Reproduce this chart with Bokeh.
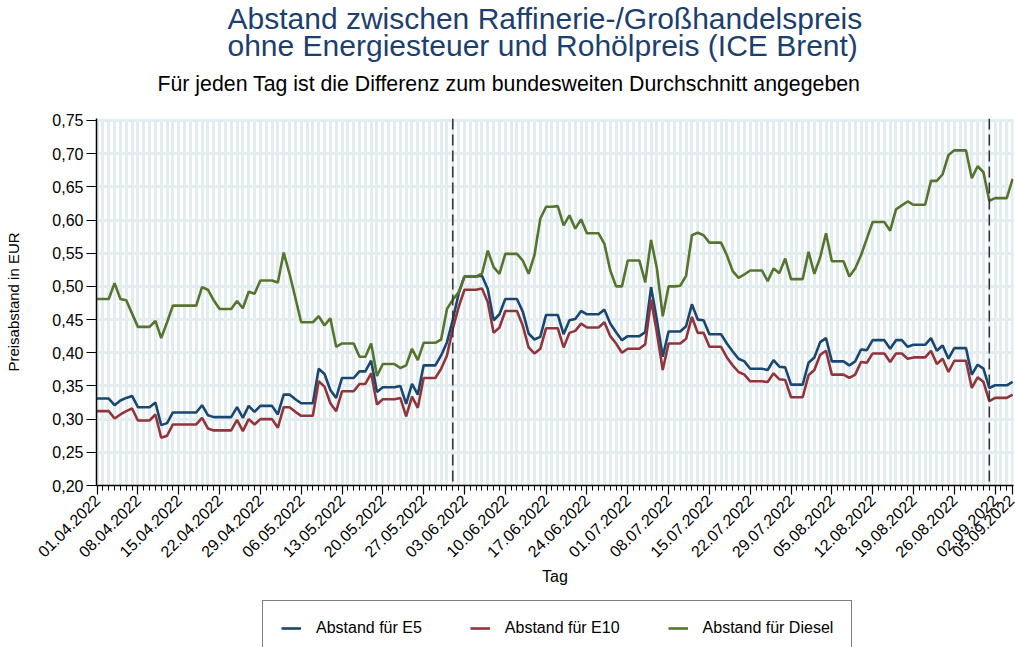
import math
import numpy as np
import pandas as pd
from bokeh.plotting import figure
from bokeh.layouts import column
from bokeh.models import (FixedTicker, CustomJSTickFormatter, Span, Legend,
                          LegendItem, ColumnDataSource, Range1d, Title)
from bokeh.embed import file_html
from bokeh.resources import INLINE

# ---------------- data ----------------
START_DATE = "2022-04-01"
END_DATE = "2022-09-05"

TICK_LABELS = ["01.04.2022", "08.04.2022", "15.04.2022", "22.04.2022", "29.04.2022",
               "06.05.2022", "13.05.2022", "20.05.2022", "27.05.2022", "03.06.2022",
               "10.06.2022", "17.06.2022", "24.06.2022", "01.07.2022", "08.07.2022",
               "15.07.2022", "22.07.2022", "29.07.2022", "05.08.2022", "12.08.2022",
               "19.08.2022", "26.08.2022", "02.09.2022", "05.09.2022"]

MARKER_DATES = ["01.06.2022", "01.09.2022"]

Y_TICKS = [0.20, 0.25, 0.30, 0.35, 0.40, 0.45, 0.50, 0.55, 0.60, 0.65, 0.70, 0.75]

E5 = [0.331, 0.331, 0.331, 0.321, 0.328, 0.332, 0.335, 0.318, 0.318, 0.318,
      0.325, 0.291, 0.294, 0.310, 0.310, 0.310, 0.310, 0.310, 0.321, 0.306,
      0.303, 0.303, 0.303, 0.303, 0.318, 0.302, 0.320, 0.311, 0.320, 0.320,
      0.320, 0.307, 0.337, 0.337, 0.330, 0.324, 0.324, 0.324, 0.376, 0.368,
      0.344, 0.332, 0.362, 0.362, 0.362, 0.372, 0.372, 0.388, 0.341, 0.348,
      0.348, 0.348, 0.350, 0.323, 0.353, 0.337, 0.381, 0.381, 0.381, 0.396,
      0.416, 0.450, 0.489, 0.515, 0.515, 0.515, 0.516, 0.496, 0.449, 0.458,
      0.481, 0.481, 0.481, 0.462, 0.429, 0.420, 0.424, 0.457, 0.457, 0.457,
      0.428, 0.449, 0.451, 0.463, 0.458, 0.458, 0.458, 0.465, 0.444, 0.431,
      0.419, 0.425, 0.425, 0.425, 0.431, 0.499, 0.449, 0.394, 0.432, 0.432,
      0.432, 0.440, 0.473, 0.450, 0.449, 0.428, 0.428, 0.428, 0.414, 0.402,
      0.391, 0.387, 0.376, 0.376, 0.376, 0.374, 0.389, 0.379, 0.378, 0.352,
      0.352, 0.352, 0.385, 0.393, 0.416, 0.422, 0.387, 0.387, 0.387, 0.381,
      0.387, 0.405, 0.404, 0.419, 0.419, 0.419, 0.406, 0.419, 0.419, 0.409,
      0.412, 0.412, 0.412, 0.422, 0.403, 0.411, 0.391, 0.407, 0.407, 0.407,
      0.367, 0.382, 0.376, 0.347, 0.351, 0.351, 0.351, 0.356]

E10 = [0.312, 0.312, 0.312, 0.301, 0.307, 0.312, 0.316, 0.298, 0.298, 0.298,
       0.307, 0.272, 0.275, 0.292, 0.292, 0.292, 0.292, 0.292, 0.302, 0.286,
       0.283, 0.283, 0.283, 0.283, 0.299, 0.282, 0.300, 0.292, 0.300, 0.300,
       0.300, 0.287, 0.318, 0.318, 0.311, 0.305, 0.305, 0.305, 0.357, 0.349,
       0.324, 0.312, 0.342, 0.342, 0.342, 0.353, 0.353, 0.369, 0.322, 0.330,
       0.330, 0.330, 0.332, 0.304, 0.334, 0.317, 0.362, 0.362, 0.362, 0.376,
       0.396, 0.436, 0.469, 0.495, 0.495, 0.495, 0.497, 0.476, 0.430, 0.438,
       0.463, 0.463, 0.463, 0.441, 0.408, 0.399, 0.406, 0.437, 0.437, 0.437,
       0.408, 0.430, 0.433, 0.444, 0.438, 0.438, 0.438, 0.446, 0.425, 0.414,
       0.400, 0.406, 0.406, 0.406, 0.413, 0.480, 0.430, 0.374, 0.414, 0.414,
       0.414, 0.421, 0.454, 0.430, 0.430, 0.409, 0.409, 0.409, 0.393, 0.381,
       0.371, 0.367, 0.357, 0.357, 0.357, 0.356, 0.369, 0.360, 0.359, 0.333,
       0.333, 0.333, 0.366, 0.374, 0.397, 0.403, 0.367, 0.367, 0.367, 0.362,
       0.367, 0.386, 0.385, 0.399, 0.399, 0.399, 0.386, 0.399, 0.399, 0.391,
       0.393, 0.393, 0.393, 0.403, 0.383, 0.391, 0.371, 0.388, 0.388, 0.388,
       0.347, 0.363, 0.356, 0.327, 0.332, 0.332, 0.332, 0.337]

DIESEL = [0.481, 0.481, 0.481, 0.505, 0.481, 0.479, 0.459, 0.439, 0.439, 0.439,
          0.448, 0.422, 0.446, 0.471, 0.471, 0.471, 0.471, 0.471, 0.499, 0.495,
          0.479, 0.466, 0.466, 0.466, 0.478, 0.467, 0.492, 0.489, 0.509, 0.509,
          0.509, 0.506, 0.551, 0.519, 0.483, 0.446, 0.446, 0.446, 0.455, 0.441,
          0.452, 0.409, 0.414, 0.414, 0.414, 0.394, 0.394, 0.414, 0.365, 0.383,
          0.383, 0.383, 0.377, 0.381, 0.406, 0.389, 0.415, 0.415, 0.415, 0.420,
          0.466, 0.480, 0.491, 0.515, 0.515, 0.515, 0.519, 0.554, 0.529, 0.519,
          0.549, 0.549, 0.549, 0.539, 0.519, 0.547, 0.602, 0.620, 0.620, 0.621,
          0.592, 0.607, 0.587, 0.601, 0.580, 0.580, 0.580, 0.564, 0.524, 0.500,
          0.500, 0.539, 0.539, 0.539, 0.506, 0.570, 0.527, 0.455, 0.500, 0.500,
          0.501, 0.516, 0.577, 0.581, 0.577, 0.566, 0.566, 0.566, 0.547, 0.523,
          0.513, 0.518, 0.524, 0.524, 0.524, 0.508, 0.527, 0.520, 0.542, 0.511,
          0.511, 0.511, 0.552, 0.519, 0.544, 0.580, 0.538, 0.538, 0.538, 0.515,
          0.527, 0.547, 0.572, 0.597, 0.597, 0.597, 0.584, 0.616, 0.622, 0.628,
          0.623, 0.623, 0.623, 0.659, 0.659, 0.669, 0.698, 0.705, 0.705, 0.705,
          0.663, 0.681, 0.672, 0.629, 0.633, 0.633, 0.633, 0.662]

SERIES_NAMES = ["Abstand für E5", "Abstand für E10", "Abstand für Diesel"]
SERIES_COLORS = ["#1a476f", "#90353b", "#55752f"]

TITLE_LINES = ["Abstand zwischen Raffinerie-/Großhandelspreis",
               "ohne Energiesteuer und Rohölpreis (ICE Brent)"]
SUBTITLE = "Für jeden Tag ist die Differenz zum bundesweiten Durchschnitt angegeben"
X_LABEL = "Tag"
Y_LABEL = "Preisabstand in EUR"

# ---------------- derived ----------------
dates = pd.date_range(START_DATE, END_DATE, freq="D")
day_labels = list(dates.strftime("%d.%m.%Y"))
x = np.arange(len(day_labels))
pos = {lab: i for i, lab in enumerate(day_labels)}
tick_pos = [pos[l] for l in TICK_LABELS]
cols = ["e5", "e10", "diesel"]

src = ColumnDataSource(dict(x=x, e5=E5, e10=E10, diesel=DIESEL, tag=day_labels))

FONT = "Liberation Sans"
GRID = "#e3ecef"

p = figure(width=1015, height=587, output_backend="svg", toolbar_location=None,
           min_border_left=96, min_border_right=2, min_border_top=118,
           min_border_bottom=102,
           x_range=Range1d(-0.1, len(x) - 1 + 0.15),
           y_range=Range1d(0.20, 0.753))
p.background_fill_color = "white"
p.border_fill_color = "white"
p.outline_line_color = None

# grids
p.xgrid.ticker = FixedTicker(ticks=list(x))
p.xgrid.grid_line_color = GRID
p.xgrid.grid_line_width = 3
p.ygrid.ticker = FixedTicker(ticks=Y_TICKS)
p.ygrid.grid_line_color = GRID
p.ygrid.grid_line_width = 3

# x axis
p.xaxis.ticker = FixedTicker(ticks=tick_pos, minor_ticks=list(x))
p.xaxis.major_label_overrides = {int(i): l for i, l in zip(tick_pos, TICK_LABELS)}
p.xaxis.major_label_orientation = math.pi / 4
p.xaxis.major_label_text_font = FONT
p.xaxis.major_label_text_font_size = "16px"
p.xaxis.major_label_text_color = "black"
p.xaxis.major_label_standoff = 3
p.xaxis.major_tick_out = 9
p.xaxis.major_tick_in = 0
p.xaxis.minor_tick_out = 5
p.xaxis.minor_tick_in = 0
p.xaxis.axis_line_width = 1.5
p.xaxis.major_tick_line_width = 1.2
p.xaxis.minor_tick_line_width = 1
p.xaxis.axis_line_color = "black"
p.xaxis.axis_label = X_LABEL
p.xaxis.axis_label_text_font = FONT
p.xaxis.axis_label_text_font_size = "16px"
p.xaxis.axis_label_text_font_style = "normal"
p.xaxis.axis_label_text_color = "black"
p.xaxis.axis_label_standoff = 2

# y axis
p.yaxis.ticker = FixedTicker(ticks=Y_TICKS)
p.yaxis.formatter = CustomJSTickFormatter(code="return tick.toFixed(2).replace('.', ',');")
p.yaxis.major_label_text_font = FONT
p.yaxis.major_label_text_font_size = "16px"
p.yaxis.major_label_text_color = "black"
p.yaxis.major_label_standoff = 3
p.yaxis.major_tick_out = 10
p.yaxis.major_tick_in = 0
p.yaxis.minor_tick_line_color = None
p.yaxis.axis_line_width = 1.5
p.yaxis.major_tick_line_width = 1.2
p.yaxis.axis_line_color = "black"
p.yaxis.axis_label = Y_LABEL
p.yaxis.axis_label_text_font = FONT
p.yaxis.axis_label_text_font_size = "15px"
p.yaxis.axis_label_text_font_style = "normal"
p.yaxis.axis_label_text_color = "black"
p.yaxis.axis_label_standoff = 27

# vertical dashed markers
for d in MARKER_DATES:
    p.add_layout(Span(location=pos[d], dimension="height", line_color="#333333",
                      line_width=1.5, line_dash="11 5"))

# lines
for col, color in zip(cols, SERIES_COLORS):
    p.line("x", col, source=src, line_color=color, line_width=2.6)

# titles (first added is closest to the plot)
p.add_layout(Title(text=SUBTITLE, align="left", offset=61, text_font=FONT,
                   text_font_size="21.3px", text_font_style="normal",
                   text_color="black", standoff=45), "above")
p.add_layout(Title(text="\n".join(TITLE_LINES), align="left", offset=131,
                   text_font=FONT, text_font_size="30px", text_font_style="normal",
                   text_color="#1c3f6e", text_line_height=0.82, standoff=-30), "above")

# ---------------- legend strip below the chart ----------------
# same series, drawn outside this strip's visible range so only the legend shows
q = figure(width=1015, height=60, output_backend="svg", toolbar_location=None,
           min_border=0, x_axis_location=None, y_axis_location=None,
           x_range=Range1d(0, 1), y_range=Range1d(5, 6))
q.grid.visible = False
q.outline_line_color = None
q.background_fill_color = "white"
q.border_fill_color = "white"
leg_renderers = [q.line("x", c, source=src, line_color=color, line_width=2.6)
                 for c, color in zip(cols, SERIES_COLORS)]
legend = Legend(items=[LegendItem(label=n, renderers=[r]) for n, r in zip(SERIES_NAMES, leg_renderers)],
                orientation="horizontal", location=(166, -9),
                label_text_font=FONT, label_text_font_size="16px", label_text_color="black",
                glyph_width=20, glyph_height=18, label_height=18, label_standoff=15,
                spacing=48, padding=18, margin=0,
                border_line_color="black", border_line_width=1.5,
                background_fill_color="white")
q.add_layout(legend, "center")

layout = column(p, q, spacing=0)
open("out.html", "w").write(file_html(layout, INLINE))
